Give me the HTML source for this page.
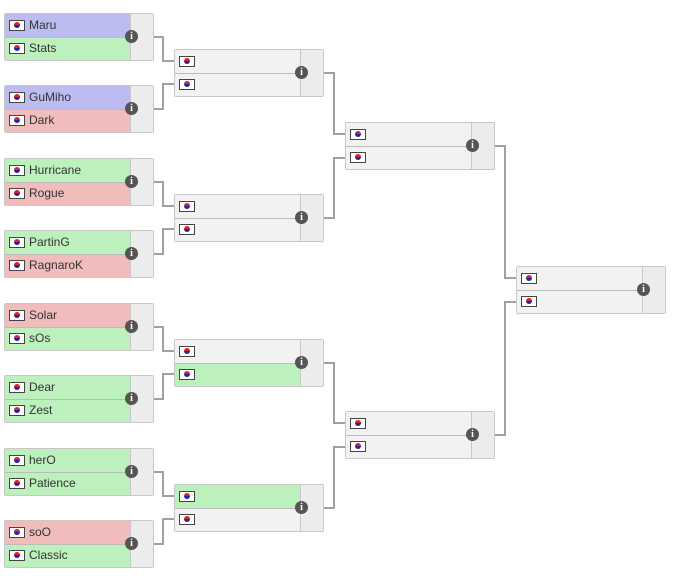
<!DOCTYPE html>
<html><head><meta charset="utf-8"><style>
body{margin:0;width:700px;height:582px;background:#fff;position:relative;overflow:hidden;font-family:"Liberation Sans","DejaVu Sans",sans-serif;}
.m{position:absolute;width:150px;height:48px;border:1px solid #c8c8c8;border-radius:2px;background:#f2f2f2;box-sizing:border-box;}
.r{position:absolute;left:0;height:23px;box-sizing:border-box;font-size:12px;color:#333;line-height:23px;padding-left:24px;width:126px}
.r.b{background:#bcbcf0}.r.g{background:#bcf0bc}.r.x{background:#f0bcbc}.r.n{background:#f2f2f2}
.sc{position:absolute;top:0;right:0;width:22px;height:46px;border-left:1px solid #c8c8c8;background:#ececec;}
.sep{position:absolute;left:0;right:0;top:23px;height:1px;background:#bbb}
.f{position:absolute;left:4px;top:6px;width:16px;height:11px;background:#fff;border:1px solid #444;box-sizing:border-box}
.f:after{content:"";position:absolute;left:4px;top:1px;width:6px;height:6px;border-radius:50%;background:linear-gradient(#d22 50%,#22a 50%)}
.i{position:absolute;width:13px;height:13px;border-radius:50%;background:#555;color:#fff;font-size:10px;font-weight:bold;line-height:13px;text-align:center;font-family:"Liberation Serif",serif}
svg{position:absolute;left:0;top:0}
</style></head><body>
<svg width="700" height="582"><g id="L" fill="none" stroke="#a0a0a0" stroke-width="2"></g></svg>
<div id="c"></div>
<script>
var c=document.getElementById('c'),L=document.getElementById('L'),h='';
function m(x,y,a,b){
 var s='<div class="m" style="left:'+x+'px;top:'+y+'px">';
 [a,b].forEach(function(p,k){s+='<div class="r '+p[1]+'" style="top:'+(k*23)+'px"><span class="f"></span>'+p[0]+'</div>';});
 s+='<div class="sep"></div><div class="sc"></div></div>';
 s+='<div class="i" style="left:'+(x+121)+'px;top:'+(y+17)+'px">i</div>';h+=s;}
var r1=[[['Maru','b'],['Stats','g']],[['GuMiho','b'],['Dark','x']],[['Hurricane','g'],['Rogue','x']],[['PartinG','g'],['RagnaroK','x']],[['Solar','x'],['sOs','g']],[['Dear','g'],['Zest','g']],[['herO','g'],['Patience','g']],[['soO','x'],['Classic','g']]];
var y1=[13,85,158,230,303,375,448,520];
r1.forEach(function(p,i){m(4,y1[i],p[0],p[1]);});
var y2=[49,194,339,484],c2=[['n','n'],['n','n'],['n','g'],['g','n']];
y2.forEach(function(y,i){m(174,y,['',c2[i][0]],['',c2[i][1]]);});
m(345,122,['','n'],['','n']);m(345,411,['','n'],['','n']);
m(516,266,['','n'],['','n']);
c.innerHTML=h;
var p='';
function con(x1,y1,xm,y2,x2){p+='<path d="M'+x1+' '+y1+'H'+xm+'V'+y2+'H'+x2+'"/>';}
for(var i=0;i<8;i++){var t=y2[i>>1];con(131,y1[i]+24,163,t+(i%2?35:12),174);}
con(302,73,334,134,345);con(302,218,334,158,345);con(302,363,334,423,345);con(302,508,334,447,345);
con(473,146,505,278,516);con(473,435,505,302,516);
L.innerHTML=p;
</script>
</body></html>
